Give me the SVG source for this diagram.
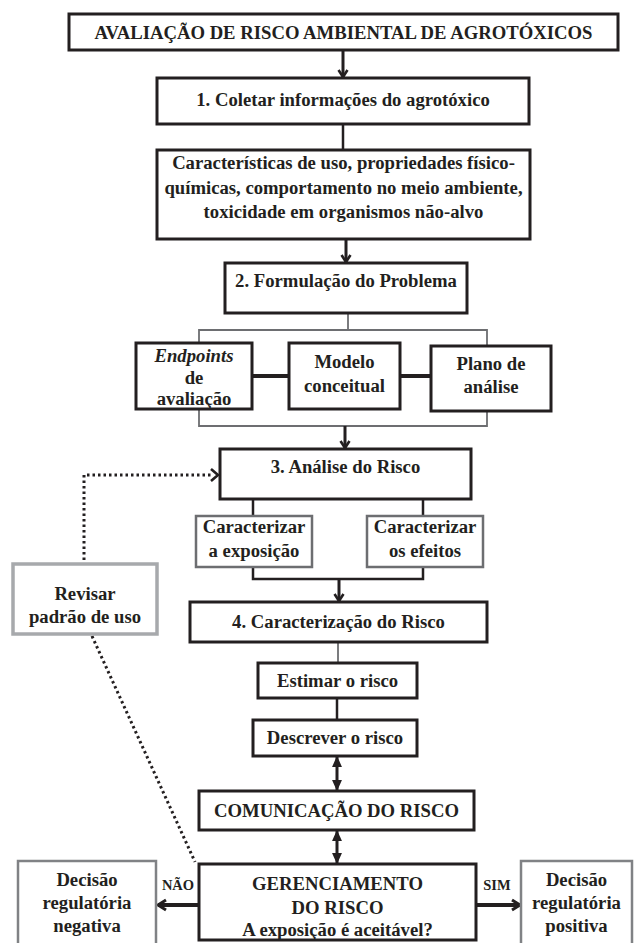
<svg xmlns="http://www.w3.org/2000/svg" width="639" height="943" viewBox="0 0 639 943">
<defs>
<style>
text{font-family:"Liberation Serif","Times New Roman",serif;font-weight:bold;fill:#231f20;text-anchor:middle;font-size:18.7px}
.box{fill:#fff;stroke:#231f20;stroke-width:3}
.boxg{fill:#fff;stroke:#6d6e71;stroke-width:2.5}
.boxl{fill:#fff;stroke:#a7a9ac;stroke-width:3.5}
.boxm{fill:#fff;stroke:#808285;stroke-width:2.5}
.ln{fill:none;stroke:#231f20;stroke-width:2.5}
.lg{fill:none;stroke:#6d6e71;stroke-width:1.8}
.arr{fill:none;stroke:#231f20;stroke-width:3;marker-end:url(#chev)}
.thick{fill:none;stroke:#231f20;stroke-width:4}
.dot{fill:none;stroke:#231f20;stroke-width:3;stroke-dasharray:2.5 3}
.sm{font-size:14.5px}
.it{font-style:italic}
</style>
<marker id="chev" viewBox="0 0 10 12" refX="8.5" refY="6" markerWidth="10" markerHeight="12" orient="auto-start-reverse" markerUnits="userSpaceOnUse">
<path d="M1.5,1.5 L8.5,6 L1.5,10.5" fill="none" stroke="#231f20" stroke-width="2.6"/>
</marker>
<marker id="chevb" viewBox="0 0 12 14" refX="10" refY="7" markerWidth="12" markerHeight="14" orient="auto-start-reverse" markerUnits="userSpaceOnUse">
<path d="M2,2 L10,7 L2,12" fill="none" stroke="#231f20" stroke-width="3"/>
</marker>
<marker id="tri" viewBox="0 0 10 10" refX="9" refY="5" markerWidth="11" markerHeight="11" orient="auto-start-reverse" markerUnits="userSpaceOnUse">
<path d="M0,0.5 L10,5 L0,9.5 Z" fill="#231f20"/>
</marker>
</defs>
<rect width="639" height="943" fill="#fff"/>

<g id="connectors">
<line class="arr" x1="343" y1="50" x2="343" y2="77"/>
<line class="ln" x1="343" y1="124" x2="343" y2="150"/>
<line class="arr" x1="346" y1="239" x2="346" y2="262"/>
<polyline class="lg" points="348,313 348,330"/>
<polyline class="lg" points="199,343 199,330 487,330 487,346"/>
<polyline class="lg" points="199,409 199,426 487,426 487,411"/>
<line class="thick" x1="252" y1="376" x2="289" y2="376"/>
<line class="thick" x1="400" y1="376" x2="431" y2="376"/>
<line class="arr" x1="345" y1="426" x2="345" y2="448"/>
<line class="ln" x1="253" y1="499" x2="253" y2="516"/>
<line class="ln" x1="423" y1="499" x2="423" y2="516"/>
<polyline class="ln" points="253,567 253,579 423,579 423,567"/>
<line class="arr" x1="339" y1="579" x2="339" y2="601"/>
<line class="lg" x1="338" y1="642" x2="338" y2="663"/>
<line class="ln" x1="337" y1="698" x2="337" y2="720"/>
<line x1="337" y1="757" x2="337" y2="790" stroke="#231f20" stroke-width="3" marker-start="url(#tri)" marker-end="url(#tri)"/>
<line x1="337" y1="831" x2="337" y2="863" stroke="#231f20" stroke-width="3" marker-start="url(#tri)" marker-end="url(#tri)"/>
<polyline class="dot" points="84,571 84,475 212,475"/>
<path d="M211,469 L218,475 L211,481" fill="none" stroke="#231f20" stroke-width="2.6"/>
<line class="dot" x1="92" y1="636" x2="195" y2="862"/>
<line x1="198" y1="905" x2="158" y2="905" stroke="#231f20" stroke-width="4" marker-end="url(#chevb)"/>
<line x1="477" y1="905" x2="520" y2="905" stroke="#231f20" stroke-width="4" marker-end="url(#chevb)"/>
<text class="sm" x="178" y="890">NÃO</text>
<text class="sm" x="497" y="890">SIM</text>
</g>

<g id="title">
<rect class="box" x="69" y="14" width="549" height="36" stroke-width="3.5"/>
<text x="343.5" y="39">AVALIAÇÃO DE RISCO AMBIENTAL DE AGROTÓXICOS</text>
</g>
<g id="coletar">
<rect class="box" x="157" y="78" width="372" height="46"/>
<text x="343" y="106">1. Coletar informações do agrotóxico</text>
</g>
<g id="caracteristicas">
<rect class="box" x="157" y="150" width="373" height="89" stroke="#414042" stroke-width="2"/>
<text x="343.5" y="169">Características de uso, propriedades físico-</text>
<text x="343.5" y="194">químicas, comportamento no meio ambiente,</text>
<text x="343.5" y="218">toxicidade em organismos não-alvo</text>
</g>
<g id="formulacao">
<rect class="box" x="225" y="263" width="242" height="50"/>
<text x="346" y="287">2. Formulação do Problema</text>
</g>
<g id="endpoints">
<rect class="box" x="136" y="343" width="116" height="66" stroke-width="2.2"/>
<text x="194" y="362" class="it">Endpoints</text>
<text x="194" y="384">de</text>
<text x="194" y="405">avaliação</text>
</g>
<g id="modelo">
<rect class="box" x="289" y="343" width="111" height="66" stroke-width="2.2"/>
<text x="344.5" y="368">Modelo</text>
<text x="344.5" y="392">conceitual</text>
</g>
<g id="plano">
<rect class="box" x="431" y="346" width="120" height="65" stroke-width="2.2"/>
<text x="491" y="370">Plano de</text>
<text x="491" y="393">análise</text>
</g>
<g id="analise">
<rect class="box" x="220" y="449" width="251" height="50"/>
<text x="345.5" y="473">3. Análise do Risco</text>
</g>
<g id="exposicao">
<rect class="boxg" x="196" y="516" width="116" height="51"/>
<text x="254" y="533">Caracterizar</text>
<text x="254" y="557">a exposição</text>
</g>
<g id="efeitos">
<rect class="boxg" x="367" y="516" width="116" height="51"/>
<text x="425" y="533">Caracterizar</text>
<text x="425" y="557">os efeitos</text>
</g>
<g id="revisar">
<rect class="boxl" x="13" y="564" width="144" height="70"/>
<text x="85" y="600">Revisar</text>
<text x="85" y="623">padrão de uso</text>
</g>
<g id="caracterizacao">
<rect class="box" x="190" y="602" width="297" height="40"/>
<text x="338.5" y="628">4. Caracterização do Risco</text>
</g>
<g id="estimar">
<rect class="box" x="258" y="663" width="159" height="35" stroke-width="2.5"/>
<text x="337.5" y="687">Estimar o risco</text>
</g>
<g id="descrever">
<rect class="box" x="253" y="720" width="164" height="36" stroke-width="2.5"/>
<text x="335" y="744">Descrever o risco</text>
</g>
<g id="comunicacao">
<rect class="box" x="199" y="791" width="275" height="39"/>
<text x="336.5" y="817">COMUNICAÇÃO DO RISCO</text>
</g>
<g id="gerenciamento">
<rect class="box" x="199" y="864" width="277" height="76"/>
<text x="337.5" y="890">GERENCIAMENTO</text>
<text x="337.5" y="914">DO RISCO</text>
<text x="337.5" y="936" font-size="16.5">A exposição é aceitável?</text>
</g>
<g id="negativa">
<rect class="boxm" x="18" y="861" width="138" height="90"/>
<text x="87" y="886">Decisão</text>
<text x="87" y="909">regulatória</text>
<text x="87" y="932">negativa</text>
</g>
<g id="positiva">
<rect class="boxm" x="521" y="861" width="111" height="90"/>
<text x="576.5" y="886">Decisão</text>
<text x="576.5" y="909">regulatória</text>
<text x="576.5" y="932">positiva</text>
</g>
</svg>
